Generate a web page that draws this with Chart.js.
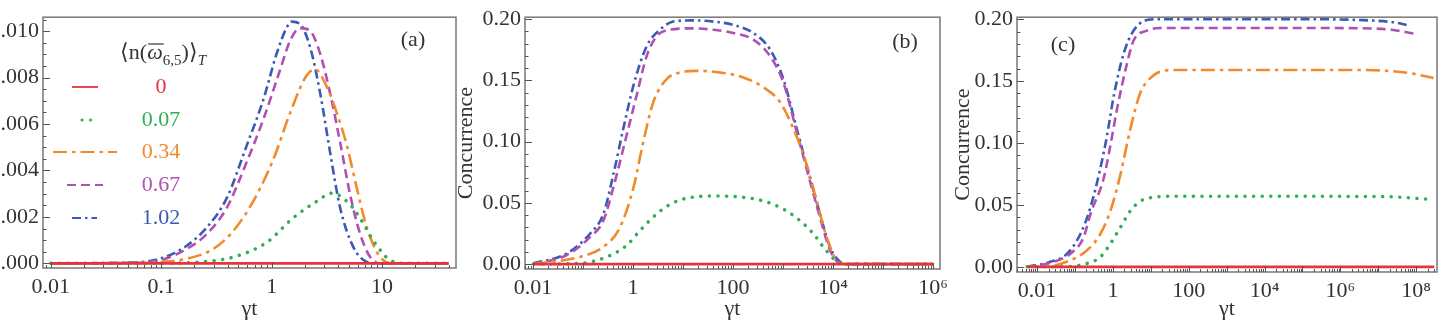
<!DOCTYPE html>
<html>
<head>
<meta charset="utf-8">
<script src="https://cdn.jsdelivr.net/npm/chart.js@4.4.1/dist/chart.umd.min.js"></script>
<style>
    html, body { margin: 0; padding: 0; background: #fff; overflow: hidden; width: 1439px; height: 323px; }
    body { position: relative; }
    canvas { position: absolute; top: 0; }
</style>
</head>
<body>
<canvas id="chartA" width="480" height="323" style="left:-20px"></canvas>
<canvas id="chartB" width="510" height="323" style="left:453px"></canvas>
<canvas id="chartC" width="489" height="323" style="left:950px"></canvas>
<script>
// legend values <n>_T
const seriesLabels = ["0", "0.07", "0.34", "0.67", "1.02"];

// ---- panel (a) ----
const aX_red = [0.01, 40];
const aY_red = [0, 0];
const aX_green = [0.01, 0.05, 0.097, 0.224, 0.45, 0.90, 1.57, 2.56, 3.51, 5.14, 6.56, 8.36, 11.8, 16.8, 40];
const aY_green = [0, 0, 0, 0.00006, 0.00027, 0.0009, 0.00196, 0.00267, 0.00302, 0.00253, 0.00182, 0.00097, 0.00014, 0, 0];
const aX_orange = [0.01, 0.05, 0.097, 0.17, 0.296, 0.45, 0.68, 1.04, 1.47, 2.08, 2.48, 3.16, 3.89, 4.80, 5.91, 7.28, 9.6, 12.6, 40];
const aY_orange = [0, 0.00001, 0.00006, 0.0002, 0.00062, 0.0014, 0.00267, 0.0045, 0.00648, 0.0081, 0.00835, 0.0076, 0.00648, 0.00507, 0.00323, 0.00154, 0.00027, 0, 0];
const aX_magenta = [0.01, 0.05, 0.097, 0.17, 0.258, 0.392, 0.594, 0.841, 1.19, 1.47, 1.81, 2.23, 2.75, 3.38, 4.17, 5.14, 6.33, 7.80, 9.6, 40];
const aY_magenta = [0, 0.00002, 0.00013, 0.00062, 0.00126, 0.00239, 0.00436, 0.0062, 0.00832, 0.00959, 0.01013, 0.01001, 0.00903, 0.00733, 0.00521, 0.00295, 0.00126, 0.00027, 0, 0];
const aX_blue = [0.01, 0.05, 0.097, 0.17, 0.258, 0.392, 0.594, 0.841, 1.11, 1.37, 1.52, 1.81, 2.23, 2.75, 3.38, 4.17, 5.51, 7.28, 8.9, 40];
const aY_blue = [0, 0.00003, 0.0002, 0.00076, 0.00154, 0.00281, 0.00507, 0.00705, 0.00903, 0.01016, 0.01041, 0.0103, 0.00931, 0.00733, 0.00479, 0.00239, 0.00069, 0.00006, 0, 0];
const aXTicks = [0.01, 0.1, 1, 10];
const aXTickLabels = ["0.01", "0.1", "1", "10"];
const aYTicks = [0, 0.002, 0.004, 0.006, 0.008, 0.010];
const aYTickLabels = ["0.000", "0.002", "0.004", "0.006", "0.008", "0.010"];

// ---- panel (b) ----
const bX_red = [0.01, 1e6];
const bY_red = [0, 0];
const bX_green = [0.0102, 0.087, 0.297, 0.747, 1.38, 2.97, 6.41, 13.8, 40.4, 138, 404, 1016, 2188, 4045, 6410, 10160, 16100, 1e6];
const bY_green = [0, 0.0006, 0.0059, 0.0153, 0.0274, 0.0409, 0.0502, 0.0543, 0.0556, 0.0548, 0.0516, 0.0449, 0.0355, 0.0248, 0.014, 0.0046, 0, 0];
const bX_orange = [0.0102, 0.087, 0.255, 0.55, 1.02, 1.61, 2.55, 4.71, 8.7, 18.8, 55, 161, 404, 871, 1610, 2973, 4710, 7470, 11840, 18760, 1e6];
const bY_orange = [0, 0.0059, 0.014, 0.0301, 0.0624, 0.1, 0.1323, 0.151, 0.1565, 0.1578, 0.1565, 0.1524, 0.1444, 0.1323, 0.1107, 0.0812, 0.0516, 0.022, 0.0032, 0, 0];
const bX_magenta = [0.0102, 0.047, 0.138, 0.255, 0.404, 0.747, 1.18, 1.88, 2.97, 5.5, 16.1, 40.4, 101, 255, 550, 1016, 1877, 3467, 5495, 8710, 13800, 18760, 1e6];
const bY_magenta = [0, 0.0073, 0.022, 0.0355, 0.0624, 0.1054, 0.1377, 0.1699, 0.186, 0.1914, 0.1925, 0.1914, 0.1887, 0.1833, 0.1699, 0.1484, 0.1081, 0.0677, 0.0381, 0.0113, 0.0006, 0, 0];
const bX_blue = [0.0102, 0.047, 0.138, 0.255, 0.404, 0.641, 1.02, 1.88, 3.47, 6.41, 16.1, 40.4, 101, 255, 550, 1016, 1877, 3467, 5495, 8710, 13800, 18760, 1e6];
const bY_blue = [0.0006, 0.0086, 0.0248, 0.0409, 0.0731, 0.1107, 0.1457, 0.178, 0.1914, 0.1981, 0.199, 0.198, 0.1954, 0.1887, 0.1753, 0.1511, 0.1107, 0.0704, 0.0409, 0.014, 0.0019, 0, 0];
const bXTicks = [0.01, 1, 100, 1e4, 1e6];
const bXTickLabels = ["0.01", "1", "100", "10\u2074", "10\u2076"];

// ---- panel (c) ----
const cX_red = [0.0055, 3e8];
const cY_red = [0, 0];
const cX_green = [0.0055, 0.041, 0.208, 0.466, 0.857, 1.57, 2.88, 5.29, 11.9, 49, 58300, 3.34e6, 2.5e7, 2.34e8];
const cY_green = [0, 0, 0.0027, 0.0079, 0.0186, 0.0318, 0.0451, 0.053, 0.0562, 0.057, 0.057, 0.0568, 0.0565, 0.0544];
const cX_orange = [0.0055, 0.015, 0.0755, 0.208, 0.466, 0.857, 1.57, 2.88, 5.29, 9.7, 17.8, 49, 58300, 3.34e6, 6.9e7, 2.87e8];
const cY_orange = [0, 0, 0.0053, 0.0133, 0.0265, 0.0451, 0.0742, 0.1113, 0.1405, 0.1524, 0.1577, 0.159, 0.159, 0.159, 0.1564, 0.1524];
const cX_magenta = [0.0055, 0.0275, 0.0755, 0.169, 0.254, 0.571, 0.857, 1.28, 2.36, 3.52, 7.94, 17.8, 58300, 3.34e6, 2.5e7, 9.3e7];
const cY_magenta = [0, 0.004, 0.0106, 0.0238, 0.0424, 0.0715, 0.098, 0.1272, 0.1643, 0.1828, 0.1908, 0.1929, 0.1929, 0.1927, 0.1913, 0.1882];
const cX_blue = [0.0055, 0.0224, 0.0618, 0.139, 0.254, 0.466, 0.70, 1.05, 1.92, 3.52, 7.94, 17.8, 58300, 3.34e6, 2.5e7, 6.9e7];
const cY_blue = [0, 0.004, 0.0106, 0.0265, 0.0477, 0.0795, 0.106, 0.1378, 0.1722, 0.1908, 0.1993, 0.2, 0.2, 0.1993, 0.1975, 0.1948];
const cXTicks = [0.01, 1, 100, 1e4, 1e6, 1e8];
const cXTickLabels = ["0.01", "1", "100", "10\u2074", "10\u2076", "10\u2078"];

const bcYTicks = [0, 0.05, 0.10, 0.15, 0.20];
const bcYTickLabels = ["0.00", "0.05", "0.10", "0.15", "0.20"];

const serif = "'Liberation Serif', 'Times New Roman', serif";
Chart.defaults.font.family = serif;
Chart.defaults.font.size = 22;
Chart.defaults.color = "#333";

const lineStyles = [
    { color: "#e8323c", dash: [], width: 2.7, cap: "butt" },
    { color: "#2fae55", dash: [0.1, 8.5], width: 3.5, cap: "round" },
    { color: "#f28a2c", dash: [14, 5, 3.5, 5], width: 2.6, cap: "butt" },
    { color: "#b050b5", dash: [9, 5], width: 2.6, cap: "butt" },
    { color: "#3a5ab4", dash: [9, 4, 2.5, 4], width: 2.6, cap: "butt" }
];

function drawLegendA(ctx) {
    // title <n(w_6,5)>_T
    const parts = [
        { t: "\u27E8n(", f: "22px " + serif, dy: 0 },
        { t: "\u03C9", f: "italic 22px " + serif, dy: 0, bar: true },
        { t: "6,5", f: "15px " + serif, dy: 6 },
        { t: ")\u27E9", f: "22px " + serif, dy: 0 },
        { t: "T", f: "italic 15px " + serif, dy: 6 }
    ];
    let total = 0;
    parts.forEach(p => { ctx.font = p.f; p.w = ctx.measureText(p.t).width; total += p.w; });
    let x = 183 - total / 2;
    const base = 59;
    ctx.fillStyle = "#333";
    ctx.textBaseline = "alphabetic";
    ctx.textAlign = "left";
    parts.forEach(p => {
        ctx.font = p.f;
        ctx.fillText(p.t, x, base + p.dy);
        if (p.bar) {
            ctx.strokeStyle = "#333";
            ctx.lineWidth = 1.2;
            ctx.beginPath();
            ctx.moveTo(x + 1, base - 15);
            ctx.lineTo(x + p.w + 1, base - 15);
            ctx.stroke();
        }
        x += p.w;
    });

    const rows = [87, 120, 152, 185, 218];
    const samples = [[92, 118], [102, 116], [73, 137], [87, 123], [92, 117]];
    rows.forEach((yy, i) => {
        const s = lineStyles[i];
        ctx.strokeStyle = s.color;
        ctx.lineWidth = i === 1 ? 3 : 1.8;
        ctx.lineCap = s.cap;
        ctx.setLineDash(s.dash);
        ctx.beginPath();
        ctx.moveTo(samples[i][0], yy);
        ctx.lineTo(samples[i][1], yy);
        ctx.stroke();
        ctx.setLineDash([]);
        ctx.lineCap = "butt";
        ctx.font = "22px " + serif;
        ctx.fillStyle = s.color;
        ctx.textAlign = "center";
        ctx.textBaseline = "middle";
        ctx.fillText(seriesLabels[i], 181, yy);
    });
}

function framePlugin(cfg) {
    return {
        id: "frame" + cfg.tag,
        afterDatasetsDraw(chart) {
            const { ctx, chartArea: a, scales: { x, y } } = chart;
            ctx.save();
            ctx.strokeStyle = "#808080";
            ctx.lineWidth = 1.6;
            ctx.strokeRect(a.left, a.top, a.right - a.left, a.bottom - a.top);

            ctx.strokeStyle = "#555";
            ctx.lineWidth = 1;
            ctx.beginPath();
            const d0 = Math.floor(Math.log10(x.min));
            const d1 = Math.ceil(Math.log10(x.max));
            for (let d = d0; d <= d1; d++) {
                for (let k = 1; k <= 9; k++) {
                    const v = k * Math.pow(10, d);
                    if (v < x.min || v > x.max) continue;
                    const px = Math.round(x.getPixelForValue(v)) + 0.5;
                    const len = k === 1 ? 6 : 3;
                    ctx.moveTo(px, a.bottom);
                    ctx.lineTo(px, a.bottom - len);
                }
            }
            const n0 = Math.ceil(y.min / cfg.yMinor - 1e-9);
            const n1 = Math.floor(y.max / cfg.yMinor + 1e-9);
            for (let n = n0; n <= n1; n++) {
                const py = Math.round(y.getPixelForValue(n * cfg.yMinor)) + 0.5;
                const len = n % cfg.yPerMajor === 0 ? 7 : 3.5;
                ctx.moveTo(a.left, py);
                ctx.lineTo(a.left + len, py);
            }
            ctx.stroke();

            ctx.fillStyle = "#333";
            ctx.font = "22px " + serif;
            ctx.textAlign = "center";
            ctx.textBaseline = "middle";
            ctx.fillText(cfg.panel, cfg.panelX, cfg.panelY);
            if (cfg.legend) drawLegendA(ctx);
            ctx.restore();
        }
    };
}

function makePanel(id, xsList, ysList, cfg) {
    const datasets = xsList.map((xs, i) => ({
        label: seriesLabels[i],
        data: xs.map((xv, j) => ({ x: xv, y: ysList[i][j] })),
        borderColor: lineStyles[i].color,
        borderWidth: lineStyles[i].width,
        borderDash: lineStyles[i].dash,
        borderCapStyle: lineStyles[i].cap,
        pointRadius: 0,
        fill: false,
        cubicInterpolationMode: "monotone"
    }));

    new Chart(document.getElementById(id), {
        type: "line",
        data: { datasets: datasets },
        options: {
            responsive: false,
            animation: false,
            events: [],
            layout: { padding: { top: cfg.padTop, right: cfg.padRight, left: 0, bottom: 0 } },
            plugins: { legend: { display: false }, tooltip: { enabled: false } },
            scales: {
                x: {
                    type: "logarithmic",
                    min: cfg.xMin,
                    max: cfg.xMax,
                    grid: { display: false, drawTicks: false },
                    border: { display: false },
                    afterBuildTicks: s => { s.ticks = cfg.xTicks.map(v => ({ value: v })); },
                    afterFit: s => { s.height = cfg.xAxisH; s.paddingLeft = 0; s.paddingRight = 0; },
                    ticks: {
                        padding: 6,
                        autoSkip: false,
                        maxRotation: 0,
                        callback: (v, i) => cfg.xTickLabels[i]
                    },
                    title: { display: true, text: "\u03B3t", font: { size: 22 }, padding: { top: 0, bottom: 1 } }
                },
                y: {
                    min: cfg.yMin,
                    max: cfg.yMax,
                    grid: { display: false, drawTicks: false },
                    border: { display: false },
                    afterBuildTicks: s => { s.ticks = cfg.yTicks.map(v => ({ value: v })); },
                    afterFit: s => { s.width = cfg.yAxisW; },
                    ticks: {
                        padding: 4,
                        callback: (v, i) => cfg.yTickLabels[i]
                    },
                    title: { display: cfg.yTitle, text: "Concurrence", font: { size: 22 }, padding: 0 }
                }
            }
        },
        plugins: [framePlugin(cfg)]
    });
}

makePanel("chartA",
    [aX_red, aX_green, aX_orange, aX_magenta, aX_blue],
    [aY_red, aY_green, aY_orange, aY_magenta, aY_blue],
    {
        tag: "A", panel: "(a)", panelX: 433, panelY: 40, legend: true,
        xMin: 0.0085, xMax: 46.7, yMin: -0.0002, yMax: 0.0106,
        xTicks: aXTicks, xTickLabels: aXTickLabels,
        yTicks: aYTicks, yTickLabels: aYTickLabels,
        yMinor: 0.0005, yPerMajor: 4, yTitle: false,
        padTop: 13, padRight: 4, xAxisH: 55, yAxisW: 63
    });

makePanel("chartB",
    [bX_red, bX_green, bX_orange, bX_magenta, bX_blue],
    [bY_red, bY_green, bY_orange, bY_magenta, bY_blue],
    {
        tag: "B", panel: "(b)", panelX: 452, panelY: 42, legend: false,
        xMin: 0.00692, xMax: 1.38e6, yMin: -0.004, yMax: 0.2016,
        xTicks: bXTicks, xTickLabels: bXTickLabels,
        yTicks: bcYTicks, yTickLabels: bcYTickLabels,
        yMinor: 0.01, yPerMajor: 5, yTitle: true,
        padTop: 14, padRight: 23, xAxisH: 54, yAxisW: 72
    });

makePanel("chartC",
    [cX_red, cX_green, cX_orange, cX_magenta, cX_blue],
    [cY_red, cY_green, cY_orange, cY_magenta, cY_blue],
    {
        tag: "C", panel: "(c)", panelX: 113, panelY: 45, legend: false,
        xMin: 0.00295, xMax: 3.55e8, yMin: -0.0042, yMax: 0.2016,
        xTicks: cXTicks, xTickLabels: cXTickLabels,
        yTicks: bcYTicks, yTickLabels: bcYTickLabels,
        yMinor: 0.01, yPerMajor: 5, yTitle: true,
        padTop: 13, padRight: 2, xAxisH: 51, yAxisW: 67
    });
</script>
</body>
</html>
